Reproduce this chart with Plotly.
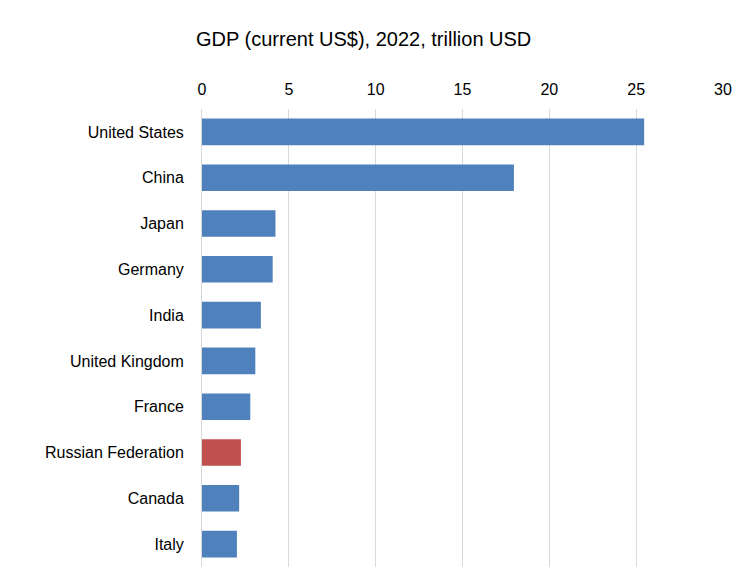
import plotly.graph_objects as go

countries = ["United States", "China", "Japan", "Germany", "India",
             "United Kingdom", "France", "Russian Federation", "Canada", "Italy"]
gdp = [25.46, 17.96, 4.23, 4.07, 3.39, 3.07, 2.78, 2.24, 2.14, 2.01]
colors = ["#c0504d" if c == "Russian Federation" else "#4f81bd" for c in countries]

fig = go.Figure(go.Bar(
    y=countries, x=gdp, orientation="h", marker_color=colors,
    marker_line_width=0, width=0.58))

fig.update_layout(
    title=dict(text="GDP (current US$), 2022, trillion USD", x=188 / 750, xanchor="left",
               xref="container", y=1 - 31 / 581, yanchor="middle",
               font=dict(size=20, color="#000")),
    font=dict(family="Liberation Sans, Arial", size=16, color="#000"),
    width=750, height=581, margin=dict(l=194, r=35, t=101, b=22),
    plot_bgcolor="white", paper_bgcolor="white", showlegend=False,
    xaxis=dict(side="top", range=[0, 30], dtick=5, showgrid=True, gridcolor="#d9d9d9",
               zeroline=False, ticks="", tickfont=dict(size=16), automargin=False,
               ticklabelstandoff=10),
    yaxis=dict(autorange="reversed", showline=True, linecolor="#d9d9d9",
               ticks="", ticklen=0, tickfont=dict(size=16), automargin=False,
               ticklabelstandoff=14),
)
fig.write_html("out.html")
